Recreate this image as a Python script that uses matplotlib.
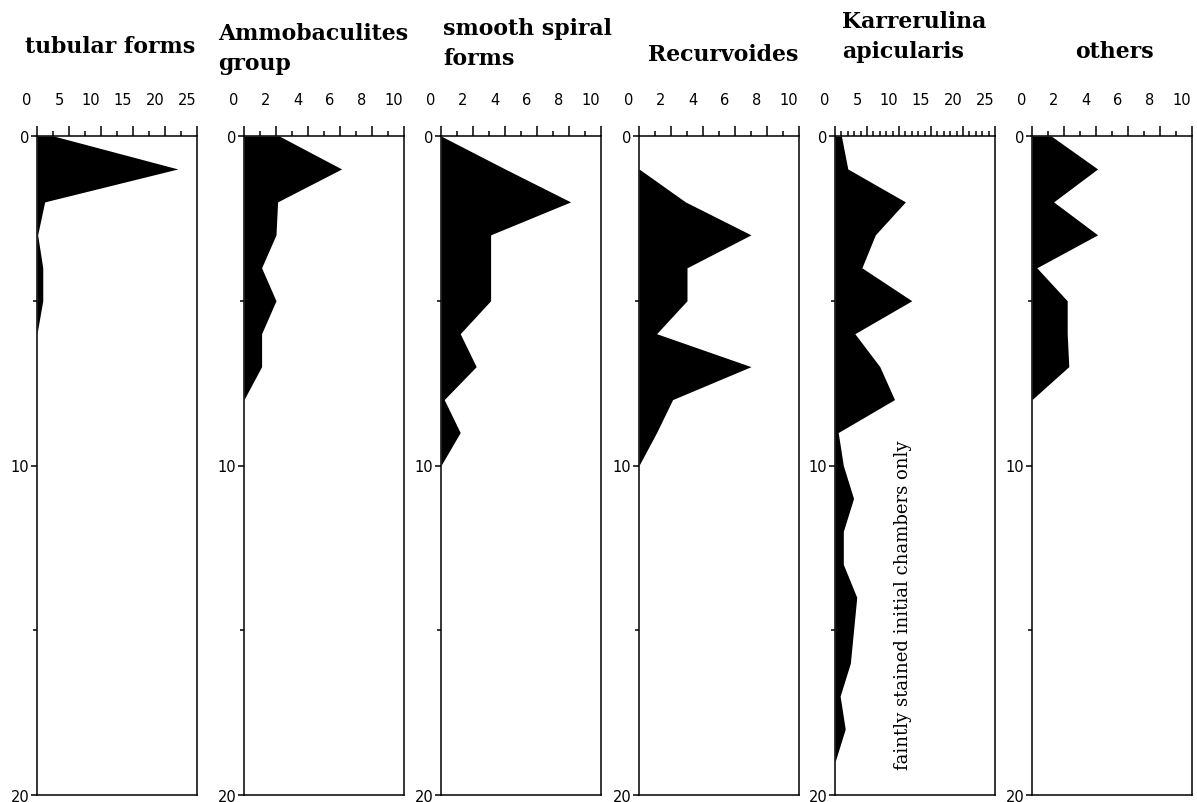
import matplotlib.pyplot as plt
import matplotlib.transforms as mtransforms
import numpy as np

# depth below sediment surface (cm), one sample per cm
depth = np.arange(0, 21)

tubular = [2.6, 22.0, 1.2, 0.1, 0.9, 0.9, 0, 0, 0, 0, 0, 0, 0, 0, 0, 0, 0, 0, 0, 0, 0]
ammobaculites = [2.2, 6.1, 2.1, 2.0, 1.1, 2.0, 1.1, 1.1, 0, 0, 0, 0, 0, 0, 0, 0, 0, 0, 0, 0, 0]
smooth_spiral = [0, 4.0, 8.1, 3.1, 3.1, 3.1, 1.2, 2.2, 0.2, 1.2, 0, 0, 0, 0, 0, 0, 0, 0, 0, 0, 0]
recurvoides = [0, 0, 2.9, 7.0, 3.0, 3.0, 1.1, 7.0, 2.1, 1.1, 0, 0, 0, 0, 0, 0, 0, 0, 0, 0, 0]
karrerulina = [1.0, 2.0, 11.0, 6.3, 4.2, 12.0, 3.1, 7.0, 9.3, 0.5,
               1.3, 2.9, 1.3, 1.3, 3.4, 2.9, 2.4, 0.8, 1.6, 0, 0]
others = [1.2, 4.1, 1.35, 4.1, 0.3, 2.2, 2.2, 2.3, 0, 0, 0, 0, 0, 0, 0, 0, 0, 0, 0, 0, 0]

titles = ["tubular forms", "Ammobaculites\ngroup", "smooth spiral\nforms",
          "Recurvoides", "Karrerulina\napicularis", "others"]
series = [tubular, ammobaculites, smooth_spiral, recurvoides, karrerulina, others]
x_max = [25, 10, 10, 10, 25, 10]
label_step = [5, 2, 2, 2, 5, 2]
minor_step = [2.5, 1, 1, 1, 1, 1]

W, H = 1197, 803
panel_left = [37, 244, 441, 639, 835, 1032]
panel_w = 160
top, bottom = 137, 796
title_xy = [(25, 47), (218, 49), (443, 44), (648, 55), (842, 37), (1075, 52)]

fig = plt.figure(figsize=(W / 100, H / 100), dpi=100)
shift_x = mtransforms.ScaledTranslation(-0.10, 0, fig.dpi_scale_trans)

for i, vals in enumerate(series):
    ax = fig.add_axes([panel_left[i] / W, 1 - bottom / H, panel_w / W, (bottom - top) / H])
    ax.fill_betweenx(depth, 0, vals, color="black", lw=0)
    ax.set_xlim(0, x_max[i])
    ax.set_ylim(20, 0)

    ax.xaxis.tick_top()
    ax.set_xticks(np.arange(0, x_max[i] + 0.1, label_step[i]))
    ax.set_xticks(np.arange(0, x_max[i] + 0.1, minor_step[i]), minor=True)
    ax.set_yticks([0, 10, 20])
    ax.set_yticks([5, 15], minor=True)
    ax.tick_params(axis="x", which="major", direction="out", length=7, width=1.1,
                   pad=14, labelsize=10.5)
    ax.tick_params(axis="x", which="minor", direction="out", length=3.5, width=1.1)
    ax.tick_params(axis="y", which="major", direction="out", length=4, width=1.1,
                   pad=1.5, labelsize=10.5)
    ax.tick_params(axis="y", which="minor", direction="out", length=3, width=1.1)
    for t in ax.xaxis.get_major_ticks():
        t.label2.set_transform(t.label2.get_transform() + shift_x)
    for s in ax.spines.values():
        s.set_linewidth(1.1)

    tx, ty = title_xy[i]
    fig.text(tx / W, 1 - ty / H, titles[i], ha="left", va="center",
             family="DejaVu Serif", fontweight="bold", fontsize=15.8, linespacing=1.5)

    if i == 4:
        ax.text(10.6, 14.2, "faintly stained initial chambers only", rotation=90,
                ha="center", va="center", family="DejaVu Serif", fontsize=13)

fig.savefig("out.png", dpi=100)
